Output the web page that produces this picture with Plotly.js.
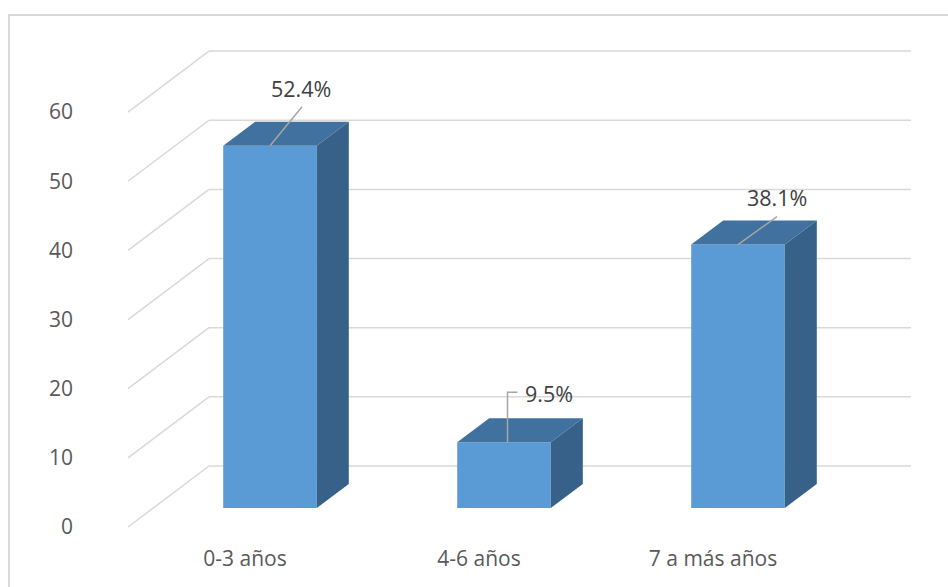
<!DOCTYPE html>
<html>
<head>
<meta charset="utf-8">
<script src="https://cdn.plot.ly/plotly-3.0.1.min.js"></script>
<style>
  html, body { margin: 0; padding: 0; background: #ffffff; overflow: hidden; }
  #frame { position: absolute; left: 8px; top: 14px; width: 1000px; height: 1000px;
           border: 2px solid #d9d9d9; box-sizing: border-box; }
  #chart { position: absolute; left: 0; top: 0; width: 948px; height: 587px; }
</style>
</head>
<body>
<div id="frame"></div>
<div id="chart"></div>
<script>
// Age groups and their share (%)
const categories = ['0-3 años', '4-6 años', '7 a más años'];
const percentages = [52.4, 9.5, 38.1];
const yTicks = [0, 10, 20, 30, 40, 50, 60];

// ---- pseudo-3D layout (pixels) ----
const W = 948, H = 587;
const M = { l: 80, r: 28, t: 40, b: 52 };
const PX_PER_CAT = 234;        // horizontal distance between categories
const PX_PER_UNIT = 6.915;     // vertical pixels per value unit
const ORIGIN = { x: 270, y: 508 }; // first bar, value 0, on the bar plane
const BAR_WIDTH = 0.4;

// depth offsets relative to the bar plane, in pixels (right, up)
const FRONT = { x: -25, y: -19 };
const BAR_BACK = { x: 32, y: 24 };
const BACK_WALL = { x: 56, y: 42 };

const ux = px => px / PX_PER_CAT;
const uy = px => px / PX_PER_UNIT;

const xRange = [(M.l - ORIGIN.x) / PX_PER_CAT, (W - M.r - ORIGIN.x) / PX_PER_CAT];
const yRange = [(ORIGIN.y - (H - M.b)) / PX_PER_UNIT, (ORIGIN.y - M.t) / PX_PER_UNIT];

const xs = categories.map((_, i) => i);

const colors = { front: '#5b9bd5', top: '#41729f', side: '#386189',
                 grid: '#d9d9d9', tick: '#595959', label: '#404040', leader: '#a6a6a6' };

const shapes = [];

// back wall gridlines and floor diagonals on the left side
yTicks.forEach(v => {
  shapes.push({
    type: 'line', layer: 'below', xref: 'x', yref: 'y',
    x0: -0.5 + ux(BACK_WALL.x), x1: categories.length - 0.5 + ux(BACK_WALL.x),
    y0: v + uy(BACK_WALL.y), y1: v + uy(BACK_WALL.y),
    line: { color: colors.grid, width: 1.5 }
  });
  shapes.push({
    type: 'line', layer: 'below', xref: 'x', yref: 'y',
    x0: -0.5 + ux(FRONT.x), x1: -0.5 + ux(BACK_WALL.x),
    y0: v + uy(FRONT.y), y1: v + uy(BACK_WALL.y),
    line: { color: colors.grid, width: 1.5 }
  });
});

// top and side faces of each bar
const dX = ux(BAR_BACK.x), dY = uy(BAR_BACK.y);
xs.forEach((c, i) => {
  const v = percentages[i];
  const l = c - BAR_WIDTH / 2, r = c + BAR_WIDTH / 2;
  shapes.push({
    type: 'path', layer: 'above', xref: 'x', yref: 'y',
    path: `M ${l},${v} L ${r},${v} L ${r + dX},${v + dY} L ${l + dX},${v + dY} Z`,
    fillcolor: colors.top, line: { width: 0 }
  });
  shapes.push({
    type: 'path', layer: 'above', xref: 'x', yref: 'y',
    path: `M ${r},0 L ${r},${v} L ${r + dX},${v + dY} L ${r + dX},${dY} Z`,
    fillcolor: colors.side, line: { width: 0 }
  });
});

// data label placement: leader points and text offsets (pixels from the bar's top front centre)
const leaderPoints = [
  [[0, 0], [32, 39]],
  [[3.5, 0], [3.5, 50], [13.5, 50]],
  [[0, 0], [39, 28]]
];
const labelShift = [[31, 57], [45, 49], [39, 47]];

xs.forEach((c, i) => {
  const v = percentages[i];
  const pts = leaderPoints[i].map(p => `${c + ux(p[0])},${v + uy(p[1])}`);
  shapes.push({
    type: 'path', layer: 'above', xref: 'x', yref: 'y',
    path: 'M ' + pts.join(' L '),
    line: { color: colors.leader, width: 1.5 }
  });
});

const annotations = xs.map((c, i) => ({
  x: c, y: percentages[i], xref: 'x', yref: 'y',
  text: percentages[i].toFixed(1) + '%',
  showarrow: false,
  xshift: labelShift[i][0], yshift: labelShift[i][1],
  font: { family: 'Open Sans, sans-serif', size: 21.5, color: colors.label }
}));

const traces = [
  {
    type: 'bar', x: xs, y: percentages, width: BAR_WIDTH,
    marker: { color: colors.front, line: { width: 0 } },
    hoverinfo: 'skip', showlegend: false
  },
  {
    // front-plane reference used for the value and category axes
    type: 'scatter', mode: 'markers', x: xs, y: percentages,
    xaxis: 'x2', yaxis: 'y2', marker: { opacity: 0, size: 1 },
    hoverinfo: 'skip', showlegend: false
  }
];

const tickFont = { family: 'Open Sans, sans-serif', size: 21, color: colors.tick };

const layout = {
  width: W, height: H,
  margin: M,
  paper_bgcolor: 'rgba(0,0,0,0)', plot_bgcolor: 'rgba(0,0,0,0)',
  showlegend: false,
  xaxis: { range: xRange, visible: false, fixedrange: true },
  yaxis: { range: yRange, visible: false, fixedrange: true },
  xaxis2: {
    overlaying: 'x', anchor: 'y2', side: 'bottom',
    range: [xRange[0] - ux(FRONT.x), xRange[1] - ux(FRONT.x)],
    tickvals: xs, ticktext: categories, ticks: '',
    showgrid: false, zeroline: false, showline: false,
    ticklabelstandoff: 9, tickfont: tickFont, fixedrange: true
  },
  yaxis2: {
    overlaying: 'y', anchor: 'x2', side: 'left',
    range: [yRange[0] - uy(FRONT.y), yRange[1] - uy(FRONT.y)],
    tickvals: yTicks, ticks: '',
    showgrid: false, zeroline: false, showline: false,
    ticklabelstandoff: 6, tickfont: tickFont, fixedrange: true
  },
  shapes: shapes,
  annotations: annotations,
  font: { family: 'Open Sans, sans-serif' }
};

Plotly.newPlot('chart', traces, layout, { displayModeBar: false, staticPlot: true });
</script>
</body>
</html>
